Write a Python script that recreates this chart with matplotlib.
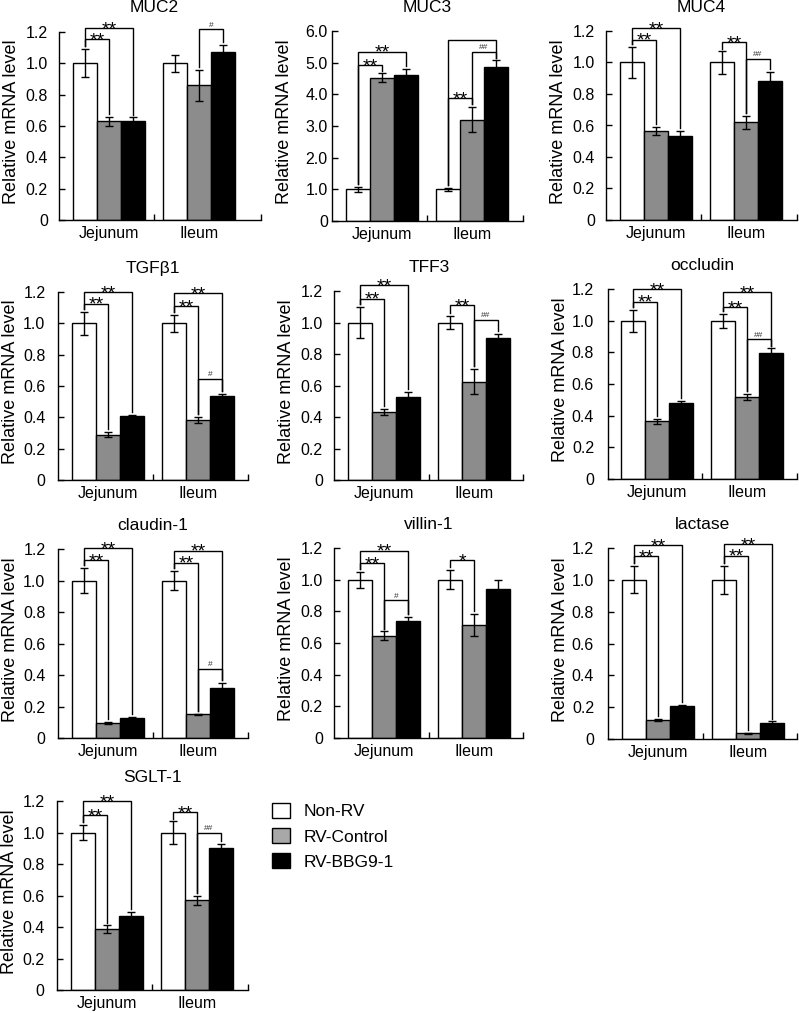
import matplotlib
matplotlib.use("Agg")
import numpy as np
import matplotlib.pyplot as plt
from matplotlib.patches import Patch

plt.rcParams['font.family'] = ['Liberation Sans', 'DejaVu Sans']

# ---------------- data ----------------
genes = ["MUC2", "MUC3", "MUC4", "TGFβ1", "TFF3", "occludin",
         "claudin-1", "villin-1", "lactase", "SGLT-1"]
regions = ["Jejunum", "Ileum"]
groups = ["Non-RV", "RV-Control", "RV-BBG9-1"]
y_max = [1.2, 6.0, 1.2, 1.2, 1.2, 1.2, 1.2, 1.2, 1.2, 1.2]

non_rv_jej      = [1.00, 1.00, 1.00, 1.00, 1.00, 1.00, 1.00, 1.00, 1.00, 1.00]
non_rv_jej_err  = [0.09, 0.08, 0.10, 0.075, 0.10, 0.07, 0.08, 0.05, 0.085, 0.05]
rv_ctrl_jej     = [0.63, 4.53, 0.565, 0.29, 0.43, 0.365, 0.095, 0.645, 0.12, 0.385]
rv_ctrl_jej_err = [0.03, 0.13, 0.025, 0.015, 0.02, 0.015, 0.005, 0.028, 0.005, 0.025]
rv_bbg_jej      = [0.63, 4.62, 0.535, 0.41, 0.53, 0.48, 0.125, 0.74, 0.21, 0.47]
rv_bbg_jej_err  = [0.025, 0.18, 0.028, 0.005, 0.03, 0.012, 0.007, 0.025, 0.005, 0.028]

non_rv_ile      = [1.00, 1.00, 1.00, 1.00, 1.00, 1.00, 1.00, 1.00, 1.00, 1.00]
non_rv_ile_err  = [0.055, 0.04, 0.07, 0.055, 0.04, 0.045, 0.06, 0.06, 0.09, 0.07]
rv_ctrl_ile     = [0.86, 3.20, 0.62, 0.385, 0.625, 0.52, 0.15, 0.715, 0.035, 0.57]
rv_ctrl_ile_err = [0.10, 0.40, 0.04, 0.02, 0.08, 0.02, 0.005, 0.07, 0.005, 0.03]
rv_bbg_ile      = [1.07, 4.85, 0.88, 0.533, 0.90, 0.795, 0.32, 0.94, 0.10, 0.90]
rv_bbg_ile_err  = [0.045, 0.22, 0.06, 0.015, 0.03, 0.03, 0.03, 0.06, 0.01, 0.03]

# significance brackets: (gene index, region index, bar i, bar j, level, label)
brackets = [
    (0, 0, 0, 1, 1.153, "**"), (0, 0, 0, 2, 1.223, "**"), (0, 1, 1, 2, 1.217, "#"),
    (1, 0, 0, 1, 4.93, "**"), (1, 0, 0, 2, 5.35, "**"), (1, 1, 0, 1, 3.89, "**"),
    (1, 1, 1, 2, 5.35, "##"), (1, 1, 0, 2, 5.72, ""),
    (2, 0, 0, 1, 1.146, "**"), (2, 0, 0, 2, 1.216, "**"), (2, 1, 0, 1, 1.127, "**"),
    (2, 1, 1, 2, 1.025, "##"),
    (3, 0, 0, 1, 1.126, "**"), (3, 0, 0, 2, 1.200, "**"), (3, 1, 0, 1, 1.109, "**"),
    (3, 1, 0, 2, 1.194, "**"), (3, 1, 1, 2, 0.646, "#"),
    (4, 0, 0, 1, 1.152, "**"), (4, 0, 0, 2, 1.237, "**"), (4, 1, 0, 1, 1.112, "**"),
    (4, 1, 1, 2, 1.017, "##"),
    (5, 0, 0, 1, 1.120, "**"), (5, 0, 0, 2, 1.200, "**"), (5, 1, 0, 1, 1.088, "**"),
    (5, 1, 0, 2, 1.179, "**"), (5, 1, 1, 2, 0.882, "##"),
    (6, 0, 0, 1, 1.131, "**"), (6, 0, 0, 2, 1.205, "**"), (6, 1, 0, 1, 1.114, "**"),
    (6, 1, 0, 2, 1.190, "**"), (6, 1, 1, 2, 0.440, "#"),
    (7, 0, 0, 1, 1.105, "**"), (7, 0, 0, 2, 1.183, "**"), (7, 0, 1, 2, 0.869, "#"),
    (7, 1, 0, 1, 1.122, "*"),
    (8, 0, 0, 1, 1.147, "**"), (8, 0, 0, 2, 1.219, "**"), (8, 1, 0, 1, 1.152, "**"),
    (8, 1, 0, 2, 1.225, "**"),
    (9, 0, 0, 1, 1.110, "**"), (9, 0, 0, 2, 1.198, "**"), (9, 1, 0, 1, 1.131, "**"),
    (9, 1, 1, 2, 1.000, "##"),
]

# ---------------- layout / style ----------------
W, H = 799, 1013
# (left, right, top, bottom, jejunum-centre x, y tick pad) in pixels
panel_px = [
    (59, 261, 32, 220, 109, 8), (332, 523, 31, 221, 382, 3), (606, 797, 31, 220, 656, 8),
    (58, 248, 292, 480, 108, 9), (334, 523, 291, 480, 384, 8), (608, 797, 289, 479, 657, 10),
    (58, 248, 549, 738, 108, 9), (334, 523, 548, 738, 384, 8), (608, 797, 548, 739, 658, 10),
    (57, 248, 801, 990, 107, 9),
]
GROUP_PX = 90.0
BAR_W = 0.265
bar_colors = ["white", "#8c8c8c", "black"]
legend_colors = ["white", "#a8a8a8", "black"]

fig = plt.figure(figsize=(W / 100, H / 100), dpi=100)

for k, gene in enumerate(genes):
    L, R, T, B, c0, ypad = panel_px[k]
    wpx, hpx = R - L, B - T
    ax = fig.add_axes([L / W, 1 - B / H, wpx / W, hpx / H])
    means = [
        [non_rv_jej[k], non_rv_ile[k]],
        [rv_ctrl_jej[k], rv_ctrl_ile[k]],
        [rv_bbg_jej[k], rv_bbg_ile[k]],
    ]
    errs = [
        [non_rv_jej_err[k], non_rv_ile_err[k]],
        [rv_ctrl_jej_err[k], rv_ctrl_ile_err[k]],
        [rv_bbg_jej_err[k], rv_bbg_ile_err[k]],
    ]
    xs = np.arange(len(regions))
    for i in range(3):
        xpos = xs + (i - 1) * BAR_W
        ax.bar(xpos, means[i], BAR_W, color=bar_colors[i], edgecolor="black",
               linewidth=1.0, zorder=2)
        ax.errorbar(xpos, means[i], yerr=errs[i], fmt="none", ecolor="black",
                    elinewidth=1.0, capsize=3, capthick=1.0, zorder=3)

    ym = y_max[k]
    ax.set_ylim(0, ym)
    ax.set_xlim((L - c0) / GROUP_PX, (R - c0) / GROUP_PX)
    yt = np.linspace(0, ym, 7)
    ax.set_yticks(yt)
    ax.set_yticklabels(["0"] + ["%.1f" % v for v in yt[1:]])
    ax.set_xticks(xs)
    ax.set_xticklabels(regions)
    ax.set_xticks([0.5, (R - c0) / GROUP_PX], minor=True)
    ax.tick_params(axis="x", which="major", length=0, pad=4.5, labelsize=11.5)
    ax.tick_params(axis="x", which="minor", direction="in", length=4, width=1.0)
    ax.tick_params(axis="y", which="major", direction="in", length=4, width=1.0,
                   pad=ypad, labelsize=11.5)
    for s in ("top", "right"):
        ax.spines[s].set_visible(False)
    for s in ("left", "bottom"):
        ax.spines[s].set_linewidth(1.0)
    ax.set_ylabel("Relative mRNA level", fontsize=13)
    ax.yaxis.set_label_coords(-39 / wpx, 0.5 + 4 / hpx)
    ax.annotate(gene, xy=(0.5, 1.0), xycoords=("data", "axes fraction"),
                xytext=(0, 24 * 0.72), textcoords="offset points",
                ha="center", va="center", fontsize=12.5)

    gap = 0.015 * ym
    for (gk, g, i, j, lvl, lab) in brackets:
        if gk != k:
            continue
        xi = g + (i - 1) * BAR_W
        xj = g + (j - 1) * BAR_W
        yi = means[i][g] + errs[i][g] + gap
        yj = means[j][g] + errs[j][g] + gap
        ax.plot([xi, xi, xj, xj], [yi, lvl, lvl, yj], color="black", lw=1.0,
                clip_on=False, zorder=4, solid_joinstyle="miter")
        if lab.startswith("*"):
            ax.annotate(lab, xy=((xi + xj) / 2, lvl), xytext=(0, -4.5),
                        textcoords="offset points", ha="center", va="baseline",
                        fontsize=14, annotation_clip=False)
        elif lab:
            ax.annotate(lab, xy=((xi + xj) / 2, lvl), xytext=(0, 2),
                        textcoords="offset points", ha="center", va="baseline",
                        fontsize=6, color="#333333", annotation_clip=False)

handles = [Patch(facecolor=c, edgecolor="black", linewidth=1.0) for c in legend_colors]
fig.legend(handles, groups, loc="upper left", bbox_to_anchor=(272 / W, 1 - 803 / H),
           frameon=False, fontsize=12.5, handlelength=1.05, handleheight=0.95,
           labelspacing=0.5, handletextpad=0.75, borderpad=0, borderaxespad=0)

fig.savefig("out.png", dpi=100)
